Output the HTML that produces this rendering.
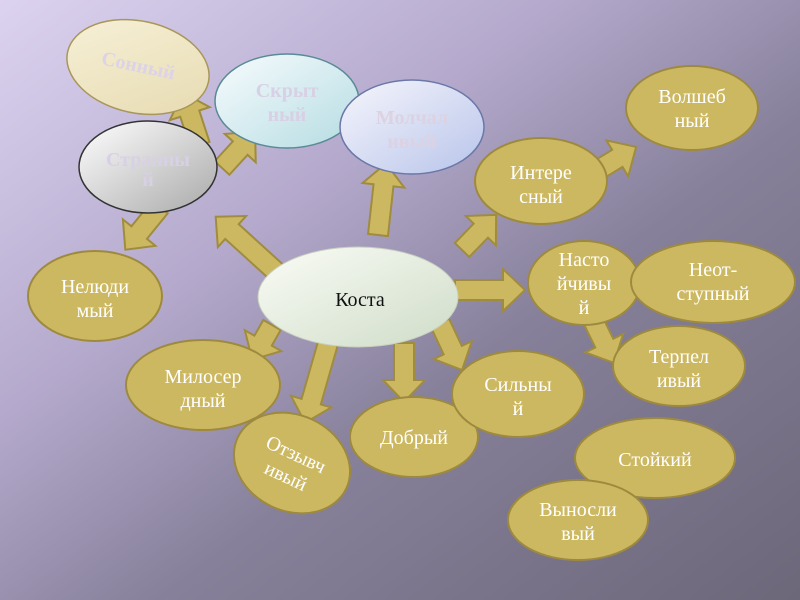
<!DOCTYPE html>
<html><head><meta charset="utf-8"><style>
html,body{margin:0;padding:0;width:800px;height:600px;overflow:hidden}
svg{display:block}
text{font-family:"Liberation Serif",serif;font-size:20px;text-anchor:middle}
</style></head><body>
<svg width="800" height="600" viewBox="0 0 800 600">
<defs>
<linearGradient id="bg" x1="0" y1="0" x2="1" y2="1">
<stop offset="0" stop-color="#dcd3f0"/><stop offset="0.35" stop-color="#b4a9cc"/><stop offset="0.6" stop-color="#86809a"/><stop offset="1" stop-color="#6c6779"/>
</linearGradient>
<linearGradient id="g1" x1="0" y1="0" x2="1" y2="1"><stop offset="0" stop-color="#f7f1d8"/><stop offset="1" stop-color="#e6dab0"/></linearGradient>
<linearGradient id="g2" x1="0" y1="0" x2="1" y2="1"><stop offset="0" stop-color="#ffffff"/><stop offset="1" stop-color="#a9a9a9"/></linearGradient>
<linearGradient id="g3" x1="0" y1="0" x2="1" y2="1"><stop offset="0" stop-color="#f8fcfe"/><stop offset="1" stop-color="#b4dce2"/></linearGradient>
<linearGradient id="g4" x1="0" y1="0" x2="1" y2="1"><stop offset="0" stop-color="#f6f6fc"/><stop offset="1" stop-color="#b8c4ea"/></linearGradient>
<linearGradient id="g5" x1="0" y1="0" x2="1" y2="1"><stop offset="0" stop-color="#fafcf6"/><stop offset="1" stop-color="#cfdcc8"/></linearGradient>
</defs>
<rect width="800" height="600" fill="url(#bg)"/>
<g fill="#cdb862" stroke="#a08c3e" stroke-width="2">
<polygon transform="translate(283,278) rotate(222.3)" points="0,-10 69,-10 69,-21 91,0 69,21 69,10 0,10"/>
<polygon transform="translate(200,145) rotate(251.9)" points="0,-10 33,-10 33,-21 55,0 33,21 33,10 0,10"/>
<polygon transform="translate(222,168) rotate(-47.5)" points="0,-10 27,-10 27,-21 49,0 27,21 27,10 0,10"/>
<polygon transform="translate(160,207) rotate(129.1)" points="0,-10 33,-10 33,-21 55,0 33,21 33,10 0,10"/>
<polygon transform="translate(378,235) rotate(-83.7)" points="0,-10 50,-10 50,-21 72,0 50,21 50,10 0,10"/>
<polygon transform="translate(462,250) rotate(-45.8)" points="0,-10 27,-10 27,-21 49,0 27,21 27,10 0,10"/>
<polygon transform="translate(590,175) rotate(-31.3)" points="0,-10 32,-10 32,-21 54,0 32,21 32,10 0,10"/>
<polygon transform="translate(455,290) rotate(0)" points="0,-10 48,-10 48,-21 70,0 48,21 48,10 0,10"/>
<polygon transform="translate(592,318) rotate(63.9)" points="0,-10 28,-10 28,-21 50,0 28,21 28,10 0,10"/>
<polygon transform="translate(272,325) rotate(119.7)" points="0,-10 18,-10 18,-21 40,0 18,21 18,10 0,10"/>
<polygon transform="translate(328,343) rotate(106)" points="0,-10 61,-10 61,-21 83,0 61,21 61,10 0,10"/>
<polygon transform="translate(404,343) rotate(90)" points="0,-10 37,-10 37,-21 59,0 37,21 37,10 0,10"/>
<polygon transform="translate(440,323) rotate(64.9)" points="0,-10 30,-10 30,-21 52,0 30,21 30,10 0,10"/>
</g>
<ellipse cx="138" cy="67" rx="72" ry="46" transform="rotate(12 138 67)" fill="url(#g1)" stroke="#a8965a" stroke-width="1.5"/>
<text x="138" y="72" fill="#ddd3e6" font-weight="bold" font-size="17" transform="rotate(12 138 67)">Сонный</text>
<ellipse cx="148" cy="167" rx="69" ry="46" fill="url(#g2)" stroke="#333" stroke-width="1.5"/>
<text x="148" y="166" fill="#d8d0e4" font-weight="bold">Странны</text>
<text x="148" y="186" fill="#d8d0e4" font-weight="bold">й</text>
<ellipse cx="287" cy="101" rx="72" ry="47" fill="url(#g3)" stroke="#5a8a96" stroke-width="1.5"/>
<text x="287" y="97" fill="#d8d0e4" font-weight="bold">Скрыт</text>
<text x="287" y="121" fill="#d8d0e4" font-weight="bold">ный</text>
<ellipse cx="412" cy="127" rx="72" ry="47" fill="url(#g4)" stroke="#6a78a8" stroke-width="1.5"/>
<text x="412" y="124" fill="#dcd2e2" font-weight="bold">Молчал</text>
<text x="412" y="148" fill="#dcd2e2" font-weight="bold">ивый</text>
<ellipse cx="358" cy="297" rx="100" ry="50" fill="url(#g5)" stroke="#c8d0c0" stroke-width="1"/>
<text x="360" y="306" fill="#111" font-size="24">Коста</text>
<g fill="#cdb862" stroke="#9e8a3e" stroke-width="2">
<ellipse cx="95" cy="296" rx="67" ry="45"/>
<ellipse cx="203" cy="385" rx="77" ry="45"/>
<ellipse cx="292" cy="463" rx="60" ry="48" transform="rotate(25 292 463)"/>
<ellipse cx="414" cy="437" rx="64" ry="40"/>
<ellipse cx="518" cy="394" rx="66" ry="43"/>
<ellipse cx="541" cy="181" rx="66" ry="43"/>
<ellipse cx="692" cy="108" rx="66" ry="42"/>
<ellipse cx="584" cy="283" rx="56" ry="42"/>
<ellipse cx="713" cy="282" rx="82" ry="41"/>
<ellipse cx="679" cy="366" rx="66" ry="40"/>
<ellipse cx="655" cy="458" rx="80" ry="40"/>
<ellipse cx="578" cy="520" rx="70" ry="40"/>
</g>
<g fill="#fff">
<text x="95" y="293">Нелюди</text><text x="95" y="317">мый</text>
<text x="203" y="383">Милосер</text><text x="203" y="407">дный</text>
<g transform="rotate(25 292 463)"><text x="292" y="460">Отзывч</text><text x="292" y="484">ивый</text></g>
<text x="414" y="444">Добрый</text>
<text x="518" y="391">Сильны</text><text x="518" y="415">й</text>
<text x="541" y="179">Интере</text><text x="541" y="203">сный</text>
<text x="692" y="103">Волшеб</text><text x="692" y="127">ный</text>
<text x="584" y="266">Насто</text><text x="584" y="290">йчивы</text><text x="584" y="314">й</text>
<text x="713" y="276">Неот-</text><text x="713" y="300">ступный</text>
<text x="679" y="363">Терпел</text><text x="679" y="387">ивый</text>
<text x="655" y="466">Стойкий</text>
<text x="578" y="516">Выносли</text><text x="578" y="540">вый</text>
</g>
</svg>
</body></html>
